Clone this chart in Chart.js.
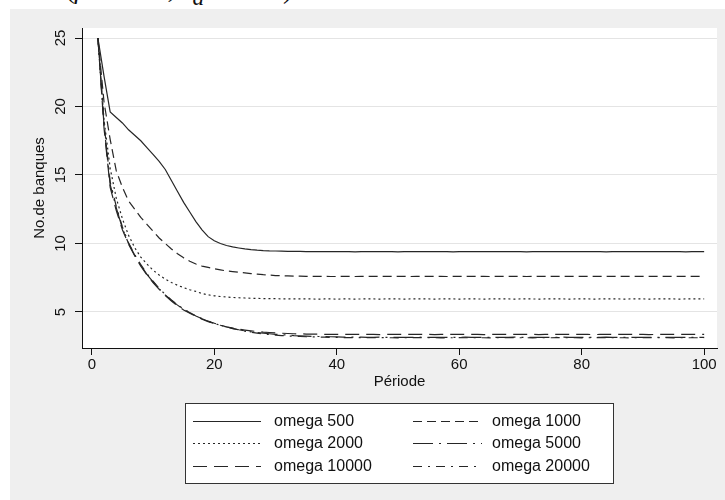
<!DOCTYPE html>
<html>
<head>
<meta charset="utf-8">
<script src="https://cdn.jsdelivr.net/npm/chart.js@4.4.1/dist/chart.umd.min.js"></script>
<style>
  body { margin: 0; background: #fff; width: 725px; height: 500px; overflow: hidden; position: relative; }
  #cap { position: absolute; left: 0; top: 0; width: 725px; height: 9px; overflow: hidden; }
  #cap span { position: absolute; left: 4px; top: -27px; font: 28px 'Liberation Serif', 'DejaVu Serif', serif; white-space: nowrap; color: #111; }
  #wrap { position: absolute; left: 10px; top: 9px; width: 715px; height: 491px; }
</style>
</head>
<body>
<div id="cap"><span><i>ratio</i> (<i>β</i> = 0.75, <i>s<sub>d</sub></i> = 0.90)</span></div>
<div id="wrap"><canvas id="myChart" width="715" height="491"></canvas></div>
<script>
// data
const periodes = [
  1, 2, 3, 4, 5, 6, 7, 8, 9, 10, 11, 12, 13, 14, 15, 16, 17, 18, 19, 20,
  21, 22, 23, 24, 25, 26, 27, 28, 29, 30, 31, 32, 33, 34, 35, 36, 37, 38, 39, 40,
  41, 42, 43, 44, 45, 46, 47, 48, 49, 50, 51, 52, 53, 54, 55, 56, 57, 58, 59, 60,
  61, 62, 63, 64, 65, 66, 67, 68, 69, 70, 71, 72, 73, 74, 75, 76, 77, 78, 79, 80,
  81, 82, 83, 84, 85, 86, 87, 88, 89, 90, 91, 92, 93, 94, 95, 96, 97, 98, 99, 100
];

const omega500 = [
  25, 22.2, 19.6, 19.2, 18.8, 18.3, 17.9, 17.5, 17.0, 16.5,
  16.0, 15.4, 14.6, 13.8, 13.0, 12.3, 11.6, 11.0, 10.5, 10.2,
  10.0, 9.85, 9.75, 9.67, 9.6, 9.55, 9.51, 9.48, 9.46, 9.45,
  9.44, 9.43, 9.42, 9.42, 9.41, 9.41, 9.41, 9.4, 9.4, 9.4,
  9.4, 9.4, 9.39, 9.4, 9.4, 9.4, 9.41, 9.4, 9.4, 9.39,
  9.4, 9.4, 9.4, 9.4, 9.41, 9.4, 9.4, 9.4, 9.39, 9.4,
  9.4, 9.4, 9.4, 9.4, 9.4, 9.41, 9.4, 9.4, 9.4, 9.4,
  9.39, 9.4, 9.4, 9.4, 9.4, 9.4, 9.4, 9.41, 9.4, 9.4,
  9.4, 9.4, 9.4, 9.39, 9.4, 9.4, 9.4, 9.4, 9.4, 9.4,
  9.41, 9.4, 9.4, 9.4, 9.4, 9.4, 9.39, 9.4, 9.4, 9.4
];

const omega1000 = [
  25, 20.3, 17.6, 15.3, 14.1, 13.1, 12.5, 11.9, 11.4, 10.9,
  10.4, 10.0, 9.6, 9.25, 8.95, 8.7, 8.5, 8.35, 8.25, 8.15,
  8.07, 8.0, 7.95, 7.9, 7.85, 7.8, 7.76, 7.72, 7.69, 7.66,
  7.64, 7.63, 7.62, 7.61, 7.6, 7.6, 7.6, 7.6, 7.59, 7.59,
  7.6, 7.6, 7.59, 7.6, 7.6, 7.6, 7.59, 7.6, 7.6, 7.6,
  7.6, 7.59, 7.6, 7.6, 7.6, 7.6, 7.6, 7.59, 7.6, 7.6,
  7.6, 7.6, 7.6, 7.6, 7.59, 7.6, 7.6, 7.6, 7.6, 7.6,
  7.59, 7.6, 7.6, 7.6, 7.6, 7.6, 7.6, 7.6, 7.59, 7.6,
  7.6, 7.6, 7.6, 7.6, 7.6, 7.59, 7.6, 7.6, 7.6, 7.6,
  7.6, 7.6, 7.59, 7.6, 7.6, 7.6, 7.6, 7.6, 7.6, 7.6
];

const omega2000 = [
  25, 19.0, 15.5, 13.3, 11.8, 10.6, 9.7, 9.0, 8.5, 8.05,
  7.7, 7.4, 7.15, 6.95, 6.78, 6.62, 6.5, 6.35, 6.25, 6.18,
  6.13, 6.09, 6.06, 6.04, 6.02, 6.0, 5.99, 5.98, 5.97, 5.97,
  5.96, 5.96, 5.95, 5.95, 5.95, 5.95, 5.94, 5.95, 5.95, 5.94,
  5.95, 5.95, 5.94, 5.95, 5.95, 5.95, 5.94, 5.95, 5.95, 5.95,
  5.94, 5.95, 5.95, 5.95, 5.95, 5.94, 5.95, 5.95, 5.95, 5.94,
  5.95, 5.95, 5.95, 5.94, 5.95, 5.95, 5.95, 5.95, 5.94, 5.95,
  5.95, 5.95, 5.94, 5.95, 5.95, 5.95, 5.95, 5.94, 5.95, 5.95,
  5.95, 5.94, 5.95, 5.95, 5.95, 5.95, 5.94, 5.95, 5.95, 5.95,
  5.94, 5.95, 5.95, 5.95, 5.95, 5.94, 5.95, 5.95, 5.95, 5.95
];

const omega5000 = [
  25, 18.6, 14.3, 12.6, 11.1, 10.0, 9.15, 8.4, 7.75, 7.2,
  6.7, 6.25, 5.85, 5.5, 5.2, 4.93, 4.7, 4.5, 4.32, 4.17,
  4.02, 3.9, 3.8, 3.7, 3.62, 3.55, 3.5, 3.45, 3.41, 3.37,
  3.34, 3.31, 3.28, 3.26, 3.24, 3.22, 3.21, 3.2, 3.19, 3.18,
  3.17, 3.17, 3.16, 3.16, 3.15, 3.15, 3.16, 3.15, 3.15, 3.14,
  3.15, 3.15, 3.15, 3.16, 3.15, 3.15, 3.14, 3.15, 3.15, 3.15,
  3.16, 3.15, 3.15, 3.15, 3.14, 3.15, 3.15, 3.15, 3.16, 3.15,
  3.15, 3.14, 3.15, 3.15, 3.15, 3.15, 3.16, 3.15, 3.15, 3.14,
  3.15, 3.15, 3.15, 3.16, 3.15, 3.15, 3.15, 3.14, 3.15, 3.15,
  3.15, 3.16, 3.15, 3.15, 3.14, 3.15, 3.15, 3.15, 3.15, 3.15
];

const omega10000 = [
  25, 18.4, 14.1, 12.4, 11.0, 9.95, 9.1, 8.35, 7.7, 7.15,
  6.65, 6.2, 5.8, 5.45, 5.15, 4.9, 4.68, 4.48, 4.3, 4.16,
  4.03, 3.92, 3.83, 3.75, 3.68, 3.62, 3.57, 3.53, 3.5, 3.47,
  3.45, 3.43, 3.41, 3.4, 3.39, 3.38, 3.38, 3.37, 3.37, 3.36,
  3.36, 3.36, 3.37, 3.36, 3.36, 3.36, 3.35, 3.36, 3.36, 3.36,
  3.37, 3.36, 3.36, 3.36, 3.36, 3.35, 3.36, 3.36, 3.36, 3.37,
  3.36, 3.36, 3.36, 3.35, 3.36, 3.36, 3.36, 3.36, 3.37, 3.36,
  3.36, 3.36, 3.35, 3.36, 3.36, 3.36, 3.36, 3.37, 3.36, 3.36,
  3.36, 3.35, 3.36, 3.36, 3.36, 3.36, 3.37, 3.36, 3.36, 3.36,
  3.35, 3.36, 3.36, 3.36, 3.36, 3.37, 3.36, 3.36, 3.36, 3.36
];

const omega20000 = [
  25, 18.8, 14.5, 12.7, 11.2, 10.05, 9.2, 8.45, 7.8, 7.25,
  6.72, 6.27, 5.87, 5.52, 5.22, 4.95, 4.72, 4.51, 4.33, 4.18,
  4.03, 3.9, 3.79, 3.69, 3.6, 3.52, 3.46, 3.4, 3.35, 3.31,
  3.28, 3.25, 3.23, 3.21, 3.19, 3.18, 3.17, 3.16, 3.15, 3.14,
  3.13, 3.13, 3.12, 3.13, 3.12, 3.12, 3.13, 3.12, 3.12, 3.11,
  3.12, 3.12, 3.13, 3.12, 3.12, 3.12, 3.11, 3.12, 3.12, 3.13,
  3.12, 3.12, 3.12, 3.12, 3.11, 3.12, 3.12, 3.13, 3.12, 3.12,
  3.12, 3.11, 3.12, 3.12, 3.12, 3.13, 3.12, 3.12, 3.12, 3.11,
  3.12, 3.12, 3.13, 3.12, 3.12, 3.12, 3.12, 3.11, 3.12, 3.12,
  3.12, 3.13, 3.12, 3.12, 3.11, 3.12, 3.12, 3.12, 3.12, 3.12
];

const seriesLabels = ['omega 500', 'omega 1000', 'omega 2000', 'omega 5000', 'omega 10000', 'omega 20000'];
const xTicks = [0, 20, 40, 60, 80, 100];
const yTicks = [5, 10, 15, 20, 25];

const dashes = [[], [9, 5], [2, 3], [20, 6, 2, 6], [14, 7], [9, 6, 2, 6]];
const allSeries = [omega500, omega1000, omega2000, omega5000, omega10000, omega20000];

const FONT = "'Liberation Sans', Arial, sans-serif";
Chart.defaults.font.family = FONT;
Chart.defaults.font.size = 15;
Chart.defaults.color = '#111';

const stataLook = {
    id: 'stataLook',
    beforeDraw(chart) {
        const c = chart.ctx, a = chart.chartArea;
        c.save();
        c.fillStyle = '#efefef';
        c.fillRect(0, 0, chart.width, chart.height);
        c.fillStyle = '#fff';
        c.fillRect(a.left, a.top, a.right - a.left, a.bottom - a.top);
        c.restore();
    },
    afterDraw(chart) {
        const c = chart.ctx, a = chart.chartArea, y = chart.scales.y;
        c.save();
        c.fillStyle = '#111';
        c.font = '15px ' + FONT;
        c.textAlign = 'center';
        c.textBaseline = 'middle';
        // rotated y tick labels
        yTicks.forEach(v => {
            c.save();
            c.translate(a.left - 21, y.getPixelForValue(v));
            c.rotate(-Math.PI / 2);
            c.fillText(String(v), 0, 0);
            c.restore();
        });
        c.save();
        c.translate(a.left - 42, (a.top + a.bottom) / 2);
        c.rotate(-Math.PI / 2);
        c.fillText('No.de banques', 0, 0);
        c.restore();

        // legend box
        const bx = 175, by = 394, bw = 428, bh = 80;
        c.fillStyle = '#fff';
        c.fillRect(bx, by, bw, bh);
        c.strokeStyle = '#333';
        c.lineWidth = 1;
        c.strokeRect(bx + 0.5, by + 0.5, bw, bh);
        const rows = [412, 434, 457];
        const cols = [{ x0: 183, x1: 251, tx: 264 }, { x0: 403, x1: 472, tx: 482 }];
        c.font = '16px ' + FONT;
        c.textAlign = 'left';
        chart.data.datasets.forEach((ds, i) => {
            const col = cols[i % 2], ry = rows[Math.floor(i / 2)];
            c.strokeStyle = ds.borderColor;
            c.lineWidth = ds.borderWidth;
            c.setLineDash(ds.borderDash);
            c.beginPath();
            c.moveTo(col.x0, ry + 0.5);
            c.lineTo(col.x1, ry + 0.5);
            c.stroke();
            c.setLineDash([]);
            c.fillStyle = '#111';
            c.fillText(ds.label, col.tx, ry + 1);
        });
        c.restore();
    }
};

const ctx = document.getElementById('myChart').getContext('2d');

const myChart = new Chart(ctx, {
    type: 'line',
    data: {
        labels: periodes,
        datasets: allSeries.map((vals, i) => ({
            label: seriesLabels[i],
            data: vals.map((v, k) => ({ x: periodes[k], y: v })),
            borderColor: '#262626',
            borderWidth: 1.2,
            borderDash: dashes[i],
            pointRadius: 0,
            tension: 0,
            fill: false
        }))
    },
    options: {
        responsive: false,
        animation: false,
        layout: { padding: { left: 0, top: 19, right: 8, bottom: 102 } },
        plugins: { legend: { display: false }, tooltip: { enabled: false } },
        scales: {
            x: {
                type: 'linear',
                min: -1.6,
                max: 102.1,
                afterBuildTicks: s => { s.ticks = xTicks.map(v => ({ value: v })); },
                afterFit: s => { s.height = 50; },
                grid: { drawOnChartArea: false, tickLength: 7, tickColor: '#111' },
                border: { color: '#111', width: 1 },
                ticks: { padding: 1, color: '#111', maxRotation: 0 },
                title: { display: true, text: 'Période', color: '#111', padding: { top: 0, bottom: 7 } }
            },
            y: {
                min: 2.37,
                max: 25.73,
                afterBuildTicks: s => { s.ticks = yTicks.map(v => ({ value: v })); },
                afterFit: s => { s.width = 72; },
                grid: { color: '#e4e4e4', tickLength: 7, tickColor: '#111' },
                border: { color: '#111', width: 1 },
                ticks: { display: false }
            }
        }
    },
    plugins: [stataLook]
});
</script>
</body>
</html>
